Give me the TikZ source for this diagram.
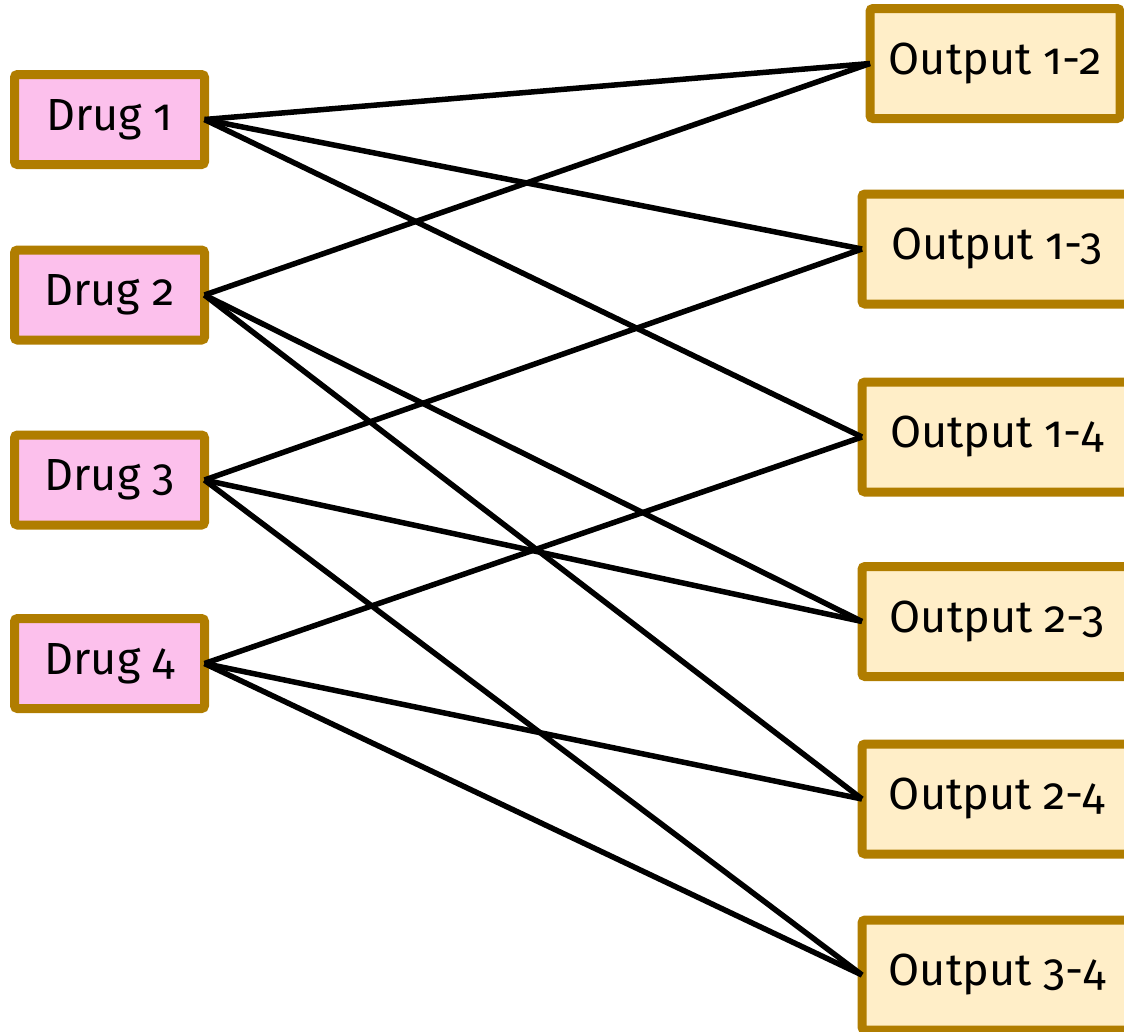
\documentclass[tikz,border=0pt]{standalone}
\usepackage{fontspec}
\setmainfont[Numbers=OldStyle]{Fira Sans}
\definecolor{frame}{RGB}{176,125,0}
\definecolor{drugfill}{RGB}{252,192,236}
\definecolor{outfill}{RGB}{255,238,200}
\begin{document}
\begin{tikzpicture}[x=1pt,y=-1pt,
  box/.style={rectangle, draw=frame, line width=9pt, rounded corners=3pt,
    inner sep=0pt, outer sep=0pt, font=\fontsize{45}{47}\selectfont},
  drug/.style={box, fill=drugfill, minimum width=190pt, minimum height=90pt},
  outbox/.style={box, fill=outfill, minimum width=270pt, minimum height=110pt},
  link/.style={line width=5.5pt, black}]
\useasboundingbox (0,0) rectangle (1124,1031);
\clip (0,0) rectangle (1124,1031);

% drugs on the left
\node[drug] (d1) at (109.5,119.5) {Drug 1};
\node[drug] (d2) at (109.5,295) {Drug 2};
\node[drug] (d3) at (109.5,480) {Drug 3};
\node[drug] (d4) at (109.5,663.5) {Drug 4};

% pairwise outputs on the right
\node[outbox, minimum width=250pt] (o12) at (995,63.5) {Output 1-2};
\node[outbox] (o13) at (997,249) {Output 1-3};
\node[outbox] (o14) at (997,437) {Output 1-4};
\node[outbox] (o23) at (997,621.5) {Output 2-3};
\node[outbox] (o24) at (997,799) {Output 2-4};
\node[outbox] (o34) at (997,975) {Output 3-4};

% each drug feeds every output that names it
\draw[link] (d1.east) -- (o12.west);
\draw[link] (d1.east) -- (o13.west);
\draw[link] (d1.east) -- (o14.west);
\draw[link] (d2.east) -- (o12.west);
\draw[link] (d2.east) -- (o23.west);
\draw[link] (d2.east) -- (o24.west);
\draw[link] (d3.east) -- (o13.west);
\draw[link] (d3.east) -- (o23.west);
\draw[link] (d3.east) -- (o34.west);
\draw[link] (d4.east) -- (o14.west);
\draw[link] (d4.east) -- (o24.west);
\draw[link] (d4.east) -- (o34.west);
\end{tikzpicture}
\end{document}
